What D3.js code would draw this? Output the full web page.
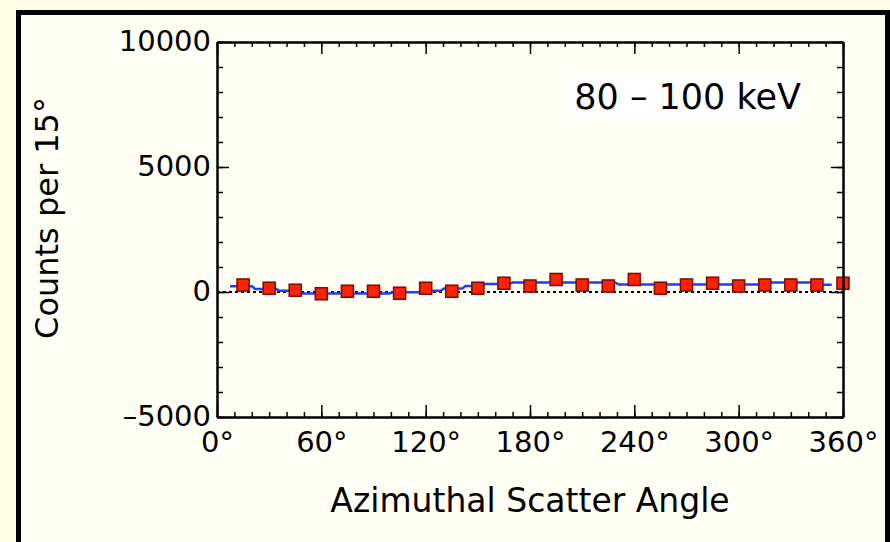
<!DOCTYPE html>
<html>
<head>
<meta charset="utf-8">
<script src="https://cdn.jsdelivr.net/npm/d3@7"></script>
<style>
  html, body { margin: 0; padding: 0; background: #fffce3; }
  svg { display: block; }
  text { font-family: "DejaVu Sans", sans-serif; fill: #000; }
</style>
</head>
<body>
<svg id="chart" width="890" height="542"></svg>
<script>
// ---- data ----
const angles = [15,30,45,60,75,90,105,120,135,150,165,180,195,210,225,240,255,270,285,300,315,330,345,360];
const counts = [280,150,70,-70,30,30,-50,150,30,150,350,240,500,280,240,500,150,280,350,240,280,280,280,350];
const fitAngles = [7.5,20,22,34,36,46.5,48.5,99,101,116,118,128.5,130.5,141,143,152.5,154.5,168,170,229,231,317,319,345,347,353.5];
const fitValues = [230,230,125,125,50,50,-60,-60,-10,-10,50,50,140,140,240,240,320,320,380,380,300,300,380,380,290,290];
const xTicks = [0,60,120,180,240,300,360];
const yTicks = [-5000,0,5000,10000];
const yTickLabels = ["–5000","0","5000","10000"];
const label = "80 – 100 keV";
const xTitle = "Azimuthal Scatter Angle";
const yTitle = "Counts per 15°";

// ---- layout ----
const svg = d3.select("#chart");
const L = 217, R = 843, T = 42, B = 417;
const x = d3.scaleLinear().domain([0,360]).range([L,R]);
const y = d3.scaleLinear().domain([-5000,10000]).range([B,T]);

// panel
svg.append("rect").attr("x",18.5).attr("y",12.5).attr("width",869).attr("height",545)
  .attr("fill","#fffff5").attr("stroke","#000").attr("stroke-width",5);

// zero dotted line
svg.append("line").attr("x1",L).attr("x2",R).attr("y1",y(0)).attr("y2",y(0))
  .attr("stroke","#000").attr("stroke-width",2).attr("stroke-dasharray","3,3");

// fit line
const line = d3.line().x((d,i)=>x(fitAngles[i])).y((d,i)=>y(fitValues[i]));
svg.append("path").datum(fitAngles).attr("d",line)
  .attr("fill","none").attr("stroke","#1f3cff").attr("stroke-width",2.5);

// points
const sz = 12;
svg.append("g").selectAll("rect").data(angles).join("rect")
  .attr("x",(d)=>x(d)-sz/2).attr("y",(d,i)=>y(counts[i])-sz/2)
  .attr("width",sz).attr("height",sz)
  .attr("fill","#ff2200").attr("stroke","#7a1200").attr("stroke-width",1.6);

// label
const lg = svg.append("g");
lg.append("rect").attr("x",568).attr("y",76).attr("width",235).attr("height",39).attr("fill","#ffffff");
lg.append("text").attr("x",801).attr("y",109).attr("text-anchor","end")
  .attr("font-size",35).text(label);

// axes
function styleAxis(g){
  g.selectAll(".domain").attr("stroke","#000").attr("stroke-width",2);
  g.selectAll(".tick line").attr("stroke","#000").attr("stroke-width",1.5);
}
const xMinor = d3.range(0,361,10);
const yMinor = d3.range(-5000,10001,1000);

// bottom
svg.append("g").attr("transform",`translate(0,${B})`)
  .call(d3.axisBottom(x).tickValues(xMinor).tickSizeInner(-5).tickSizeOuter(0).tickFormat(""))
  .call(styleAxis);
svg.append("g").attr("transform",`translate(0,${B})`)
  .call(d3.axisBottom(x).tickValues(xTicks).tickSizeInner(-12).tickSizeOuter(0).tickPadding(14)
    .tickFormat(d=>d+"°"))
  .call(styleAxis)
  .call(g=>g.selectAll("text").attr("font-size",29).attr("font-family","DejaVu Sans"));
// top
svg.append("g").attr("transform",`translate(0,${T})`)
  .call(d3.axisTop(x).tickValues(xMinor).tickSizeInner(-5).tickSizeOuter(0).tickFormat(""))
  .call(styleAxis);
svg.append("g").attr("transform",`translate(0,${T})`)
  .call(d3.axisTop(x).tickValues(xTicks).tickSizeInner(-12).tickSizeOuter(0).tickFormat(""))
  .call(styleAxis);
// left
svg.append("g").attr("transform",`translate(${L},0)`)
  .call(d3.axisLeft(y).tickValues(yMinor).tickSizeInner(-6).tickSizeOuter(0).tickFormat(""))
  .call(styleAxis);
svg.append("g").attr("transform",`translate(${L},0)`)
  .call(d3.axisLeft(y).tickValues(yTicks).tickSizeInner(-12).tickSizeOuter(0).tickPadding(6)
    .tickFormat((d,i)=>yTickLabels[i]))
  .call(styleAxis)
  .call(g=>g.selectAll("text").attr("font-size",29).attr("font-family","DejaVu Sans").attr("dy","0.3em"));
// right
svg.append("g").attr("transform",`translate(${R},0)`)
  .call(d3.axisRight(y).tickValues(yMinor).tickSizeInner(-6).tickSizeOuter(0).tickFormat(""))
  .call(styleAxis);
svg.append("g").attr("transform",`translate(${R},0)`)
  .call(d3.axisRight(y).tickValues(yTicks).tickSizeInner(-12).tickSizeOuter(0).tickFormat(""))
  .call(styleAxis);

// titles
svg.append("text").attr("x",(L+R)/2).attr("y",512).attr("text-anchor","middle")
  .attr("font-size",33).text(xTitle);
svg.append("text").attr("transform","translate(58,218) rotate(-90)").attr("text-anchor","middle")
  .attr("font-size",32).text(yTitle);
</script>
</body>
</html>
